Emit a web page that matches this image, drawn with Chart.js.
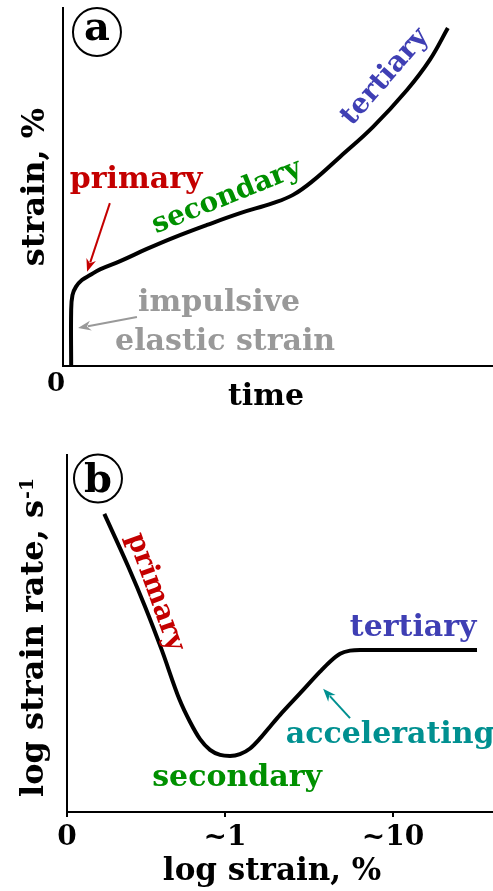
<!DOCTYPE html>
<html><head><meta charset="utf-8">
<script src="https://cdn.jsdelivr.net/npm/chart.js@4.4.0/dist/chart.umd.min.js"></script>
<style>
html,body{margin:0;padding:0;background:#fff;overflow:hidden;width:493px;height:891px}
#wa{position:absolute;left:0;top:0;width:493px;height:430px}
#wb{position:absolute;left:0;top:430px;width:493px;height:461px}
</style></head><body>
<div id="wa"><canvas id="ca"></canvas></div>
<div id="wb"><canvas id="cb"></canvas></div>
<script>
// ---- Panel (a): strain vs time (schematic creep curve, arbitrary units)
const timeA   = [0.19, 0.19, 0.22, 0.30, 0.44, 0.63, 0.86, 1.33, 1.95, 2.56, 3.35, 4.12, 4.88, 5.35, 5.81, 6.44, 7.21, 8.00, 8.53, 8.95];
const strainA = [0, 1.56, 1.98, 2.21, 2.40, 2.54, 2.70, 2.93, 3.27, 3.58, 3.94, 4.27, 4.55, 4.78, 5.17, 5.84, 6.68, 7.71, 8.55, 9.44];
const tickPosA = [0];
const tickLabelsA = ['0'];

// ---- Panel (b): log strain rate vs log strain
const logStrainB = [0.229, 0.376, 0.479, 0.581, 0.690, 0.755, 0.816, 0.877, 0.939, 1.000, 1.061, 1.123, 1.184, 1.245, 1.307, 1.429, 1.552, 1.613, 1.675, 1.736, 1.798, 2.515];
const logRateB   = [8.35, 6.87, 5.75, 4.54, 3.15, 2.52, 2.04, 1.74, 1.60, 1.57, 1.62, 1.78, 2.06, 2.39, 2.72, 3.32, 3.93, 4.21, 4.43, 4.52, 4.54, 4.54];
const tickPosB = [0, 0.969, 2.0];
const tickLabelsB = ['0', '~1', '~10'];

const FAM = "'DejaVu Serif', serif";
const RED = '#c40000', GREEN = '#009000', BLUE = '#3f3fb4', TEAL = '#009090', GRAY = '#999999';

function drawArrow(ctx, x1, y1, x2, y2, color, lw) {
  const ang = Math.atan2(y2 - y1, x2 - x1);
  const hl = 13, hw = 5;
  ctx.save();
  ctx.strokeStyle = color; ctx.fillStyle = color; ctx.lineWidth = lw;
  ctx.beginPath();
  ctx.moveTo(x1, y1);
  ctx.lineTo(x2 - (hl - 3) * Math.cos(ang), y2 - (hl - 3) * Math.sin(ang));
  ctx.stroke();
  ctx.translate(x2, y2); ctx.rotate(ang);
  ctx.beginPath();
  ctx.moveTo(0, 0);
  ctx.lineTo(-hl, -hw);
  ctx.lineTo(-hl + 4, 0);
  ctx.lineTo(-hl, hw);
  ctx.closePath();
  ctx.fill();
  ctx.restore();
}

const annot = {
  id: 'annot',
  afterDraw(chart, args, opts) {
    const ctx = chart.ctx, xs = chart.scales.x, ys = chart.scales.y;
    const P = (p) => [xs.getPixelForValue(p[0]), ys.getPixelForValue(p[1])];
    (opts.arrows || []).forEach(a => {
      const s = P(a.from), t = P(a.to);
      drawArrow(ctx, s[0], s[1], t[0], t[1], a.color, 2);
    });
    (opts.labels || []).forEach(l => {
      const p = P(l.at);
      ctx.save();
      ctx.translate(p[0], p[1]);
      ctx.rotate((l.angle || 0) * Math.PI / 180);
      ctx.font = 'bold ' + l.size + 'px ' + FAM;
      ctx.fillStyle = l.color;
      ctx.textAlign = 'center';
      ctx.textBaseline = 'middle';
      ctx.fillText(l.text, 0, 0);
      ctx.restore();
    });
    if (opts.supTitle) {
      // rotated axis title with a superscript, drawn from its start (bottom) point
      const t = opts.supTitle;
      const px = ys.left + t.offset, py = ys.getPixelForValue(t.start);
      ctx.save();
      ctx.translate(px, py);
      ctx.rotate(-Math.PI / 2);
      ctx.fillStyle = '#000';
      ctx.textAlign = 'left';
      ctx.textBaseline = 'middle';
      ctx.font = 'bold ' + t.size + 'px ' + FAM;
      ctx.fillText(t.main, 0, 0);
      const w = ctx.measureText(t.main).width;
      ctx.textBaseline = 'alphabetic';
      ctx.font = 'bold ' + t.supSize + 'px ' + FAM;
      ctx.fillText(t.sup, w + 1, t.supRaise);
      ctx.restore();
    }
    if (opts.circle) {
      const c = opts.circle, p = P(c.at);
      ctx.save();
      ctx.beginPath();
      ctx.arc(p[0], p[1], c.r, 0, Math.PI * 2);
      ctx.lineWidth = 2; ctx.strokeStyle = '#000'; ctx.stroke();
      ctx.font = 'bold ' + c.size + 'px ' + FAM;
      ctx.fillStyle = '#000'; ctx.textAlign = 'center'; ctx.textBaseline = 'alphabetic';
      ctx.fillText(c.text, p[0], p[1] + c.dy);
      ctx.restore();
    }
  }
};

function baseOptions(cfg) {
  return {
    responsive: true,
    maintainAspectRatio: false,
    animation: false,
    layout: { padding: { top: cfg.padTop, left: 0, right: 0, bottom: 0 } },
    plugins: { legend: { display: false }, tooltip: { enabled: false }, annot: cfg.annot },
    scales: {
      x: {
        type: 'linear', min: 0, max: cfg.xMax,
        afterBuildTicks: s => { s.ticks = cfg.tickPos.map(v => ({ value: v })); },
        afterFit: s => { s.height = cfg.xHeight; },
        ticks: {
          autoSkip: false, maxRotation: 0,
          color: '#000', font: { family: FAM, weight: 'bold', size: cfg.tickSize },
          padding: cfg.tickPad, labelOffset: cfg.labelOffset,
          callback: (v, i) => cfg.tickLabels[i]
        },
        grid: cfg.xGrid,
        border: { display: true, color: '#000', width: 2 }
      },
      y: {
        type: 'linear', min: 0, max: 10,
        afterFit: s => { s.width = cfg.yWidth; },
        ticks: { display: false },
        grid: { display: false, drawTicks: false },
        border: { display: true, color: '#000', width: 2 },
        title: {
          display: !!cfg.yTitle, text: cfg.yTitle || '', color: '#000',
          font: { family: FAM, weight: 'bold', size: 32 },
          padding: { top: 16, bottom: 0 }
        }
      }
    }
  };
}

new Chart(document.getElementById('ca'), {
  type: 'line',
  data: { datasets: [{
    data: timeA.map((x, i) => ({ x: x, y: strainA[i] })),
    borderColor: '#000', borderWidth: 4, pointRadius: 0, tension: 0.4, fill: false
  }] },
  options: baseOptions({
    padTop: 8, xMax: 10, xHeight: 64, yWidth: 63,
    tickPos: tickPosA, tickLabels: tickLabelsA, tickSize: 26, tickPad: 3, labelOffset: -7,
    xGrid: { display: false, drawTicks: false },
    yTitle: 'strain, %',
    annot: {
      labels: [
        { text: 'primary', at: [1.70, 5.20], color: RED, size: 30 },
        { text: 'secondary', at: [3.81, 4.72], angle: -22, color: GREEN, size: 28 },
        { text: 'tertiary', at: [7.49, 8.07], angle: -49, color: BLUE, size: 28 },
        { text: 'impulsive', at: [3.63, 1.76], color: GRAY, size: 30 },
        { text: 'elastic strain', at: [3.77, 0.67], color: GRAY, size: 30 },
        { text: 'time', at: [4.72, -0.87], color: '#000', size: 30 }
      ],
      arrows: [
        { from: [1.09, 4.55], to: [0.56, 2.63], color: RED },
        { from: [1.72, 1.37], to: [0.35, 1.06], color: GRAY }
      ],
      circle: { at: [0.79, 9.33], r: 24, text: 'a', size: 40, dy: 8 }
    }
  }),
  plugins: [annot]
});

new Chart(document.getElementById('cb'), {
  type: 'line',
  data: { datasets: [{
    data: logStrainB.map((x, i) => ({ x: x, y: logRateB[i] })),
    borderColor: '#000', borderWidth: 4, pointRadius: 0, cubicInterpolationMode: 'monotone', fill: false
  }] },
  options: baseOptions({
    padTop: 25, xMax: 2.613, xHeight: 79, yWidth: 67,
    tickPos: tickPosB, tickLabels: tickLabelsB, tickSize: 28, tickPad: 4, labelOffset: 0,
    xGrid: { display: true, drawOnChartArea: false, drawTicks: true, tickLength: 5, color: '#000', lineWidth: 2 },
    yTitle: null,
    annot: {
      supTitle: { main: 'log strain rate, s', sup: '-1', size: 32, supSize: 19, supRaise: -2, offset: 35, start: 0.42 },
      labels: [
        { text: 'primary', at: [0.540, 6.16], angle: 70, color: RED, size: 28 },
        { text: 'secondary', at: [1.043, 0.95], color: GREEN, size: 30 },
        { text: 'tertiary', at: [2.123, 5.15], color: BLUE, size: 30 },
        { text: 'accelerating', at: [1.982, 2.16], color: TEAL, size: 30 },
        { text: 'log strain, %', at: [1.258, -1.68], color: '#000', size: 31 }
      ],
      arrows: [
        { from: [1.736, 2.63], to: [1.571, 3.45], color: TEAL }
      ],
      circle: { at: [0.19, 9.34], r: 24, text: 'b', size: 40, dy: 13 }
    }
  }),
  plugins: [annot]
});
</script>
</body></html>
